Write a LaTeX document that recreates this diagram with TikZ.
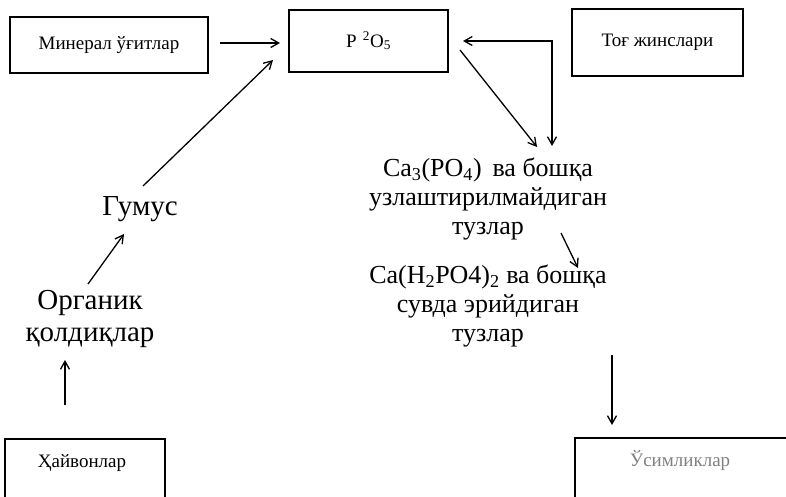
\documentclass[tikz,border=0pt]{standalone}
\usepackage{fontspec}
\setmainfont{Liberation Serif}
\usetikzlibrary{arrows.meta}
\begin{document}
\begin{tikzpicture}[x=1pt,y=-1pt,
  box/.style={draw,line width=1.3pt,inner sep=0pt,font=\fontsize{19}{21}\selectfont},
  lbl/.style={inner sep=0pt,font=\fontsize{19}{21}\selectfont},
  big/.style={align=center,font=\fontsize{26}{29}\selectfont,inner sep=0pt},
  bigl/.style={align=center,font=\fontsize{29}{32}\selectfont,inner sep=0pt},
  frame/.style={draw,line width=1.3pt},
  arr/.style={line width=1.3pt,-{Straight Barb[length=8pt,width=9pt]}},
  darr/.style={line width=1.3pt,{Straight Barb[length=8pt,width=9pt]}-{Straight Barb[length=8pt,width=9pt]}}]
\useasboundingbox (0,0) rectangle (786,496);
\node[box,minimum width=198pt,minimum height=56pt] (min) at (109,45) {Минерал ўғитлар};
\node[box,minimum width=159pt,minimum height=62pt] (p) at (368.5,41) {P\,\,\textsuperscript{2}O\textsubscript{5}};
\node[box,minimum width=171pt,minimum height=67pt] (tog) at (657.5,42.5) {Тоғ жинслари};
\node[lbl] (hay) at (82,463) {Ҳайвонлар};
\draw[frame] (hay.center) ++(-77,-24) rectangle ++(160,70);
\node[lbl,text=gray] (usim) at (680,460) {Ўсимликлар};
\draw[frame] (usim.center) ++(-105,-22) rectangle ++(215,70);
\node[bigl] (gum) at (140,209) {Гумус};
\node[bigl] (org) at (90,319) {Органик\\қолдиқлар};
\node[big] (ca3) at (488,199) {Ca\textsubscript{3}(PO\textsubscript{4})\, ва бошқа\\узлаштирилмайдиган\\тузлар};
\node[big] (ca2) at (488,306) {Ca(H\textsubscript{2}PO4)\textsubscript{2} ва бошқа\\сувда эрийдиган\\тузлар};
\coordinate (c1) at (220,43);
\coordinate (c2) at (280,43);
\draw[arr] (c1) -- (c2);
\coordinate (g1) at (143,186);
\coordinate (g2) at (273,60);
\draw[arr] (g1) -- (g2);
\coordinate (o1) at (88,284);
\coordinate (o2) at (124,234);
\draw[arr] (o1) -- (o2);
\coordinate (h1) at (65,405);
\coordinate (h2) at (65,360);
\draw[arr] (h1) -- (h2);
\coordinate (d1) at (460,50);
\coordinate (d2) at (537,147);
\draw[arr] (d1) -- (d2);
\coordinate (b1) at (463,41);
\coordinate (b2) at (552,41);
\coordinate (b3) at (552,146);
\draw[darr] (b1) -- (b2) -- (b3);
\coordinate (s1) at (561,233);
\coordinate (s2) at (578,268);
\draw[arr] (s1) -- (s2);
\coordinate (v1) at (612,355);
\coordinate (v2) at (612,425);
\draw[arr] (v1) -- (v2);
\end{tikzpicture}
\end{document}
